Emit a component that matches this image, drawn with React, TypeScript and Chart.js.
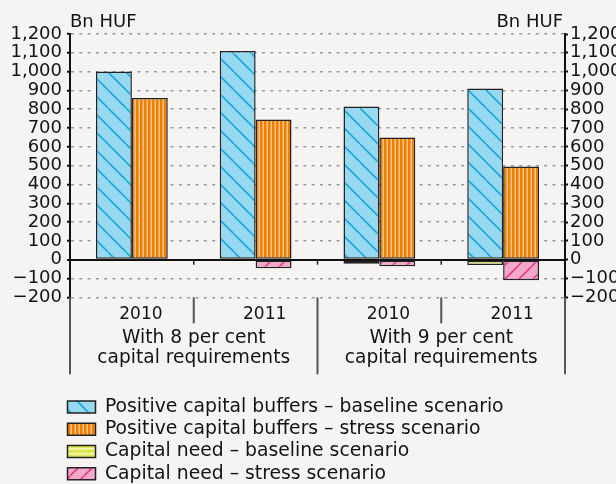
import React, { useEffect, useRef } from "react";
import { Chart, registerables } from "chart.js";

Chart.register(...registerables);

// ---- data ----
const CATEGORIES = ["2010", "2011", "2010", "2011"];
const GROUP_LABELS = [
  ["With 8 per cent", "capital requirements"],
  ["With 9 per cent", "capital requirements"],
];
const SERIES_NAMES = [
  "Positive capital buffers \u2013 baseline scenario",
  "Positive capital buffers \u2013 stress scenario",
  "Capital need \u2013 baseline scenario",
  "Capital need \u2013 stress scenario",
];
const BUFFER_BASELINE = [1000, 1110, 815, 910];
const BUFFER_STRESS = [860, 745, 650, 495];
const NEED_BASELINE = [0, 0, -22, -28];
const NEED_STRESS = [-5, -45, -35, -110];
const Y_MIN = -200;
const Y_MAX = 1200;
const Y_STEP = 100;
const UNIT_LABEL = "Bn HUF";

// ---- styles ----
const BG = "#f5f4f2";
const TEXT = "#141414";
const FONT = "DejaVu Sans";

function makePattern(kind: string, bg: string, fg: string): CanvasPattern | string {
  const c = document.createElement("canvas");
  let w = 18;
  let h = 18;
  if (kind === "back") { w = 18; h = 18; }
  if (kind === "fwd") { w = 14; h = 14; }
  if (kind === "vert") { w = 4; h = 4; }
  if (kind === "horiz") { w = 4; h = 5; }
  c.width = w;
  c.height = h;
  const g = c.getContext("2d");
  if (!g) return bg;
  g.fillStyle = bg;
  g.fillRect(0, 0, w, h);
  g.strokeStyle = fg;
  g.fillStyle = fg;
  if (kind === "back") {
    g.lineWidth = 1.6;
    for (const k of [-w, 0, w]) {
      g.beginPath();
      g.moveTo(k, 0);
      g.lineTo(k + w, h);
      g.stroke();
    }
  } else if (kind === "fwd") {
    g.lineWidth = 1.6;
    for (const k of [-w, 0, w]) {
      g.beginPath();
      g.moveTo(k, h);
      g.lineTo(k + w, 0);
      g.stroke();
    }
  } else if (kind === "vert") {
    g.fillRect(2.5, 0, 1.5, h);
  } else if (kind === "horiz") {
    g.fillRect(0, 3, w, 1.5);
  }
  return g.createPattern(c, "repeat") || bg;
}

function fmt(v: number): string {
  return Number(v).toLocaleString("en-US").replace("-", "\u2212");
}

const decorPlugin = {
  id: "decor",
  beforeDraw(chart: any) {
    const { ctx, width, height } = chart;
    ctx.save();
    ctx.fillStyle = BG;
    ctx.fillRect(0, 0, width, height);
    ctx.restore();
  },
  afterLayout(chart: any) {
    const lg = chart.legend;
    if (lg) {
      lg.left = 64;
      lg.top = 394;
    }
  },
  afterDraw(chart: any) {
    const { ctx, chartArea: area } = chart;
    const xs = chart.scales.x;
    const ys = chart.scales.y;
    const n = CATEGORIES.length;
    const centers = CATEGORIES.map((_, i) => xs.getPixelForValue(i));
    const half = (centers[1] - centers[0]) / 2;
    const bounds = [area.left, ...centers.slice(0, -1).map((c: number) => c + half), area.right];
    const y0 = ys.getPixelForValue(0);
    ctx.save();
    ctx.strokeStyle = "#222";
    ctx.lineWidth = 1.5;
    for (let i = 1; i < n; i++) {
      ctx.beginPath();
      ctx.moveTo(bounds[i], y0);
      ctx.lineTo(bounds[i], y0 + 5);
      ctx.stroke();
    }
    ctx.strokeStyle = "#555";
    ctx.lineWidth = 2;
    for (let i = 0; i <= n; i++) {
      const long = i % 2 === 0;
      ctx.beginPath();
      ctx.moveTo(bounds[i], area.bottom);
      ctx.lineTo(bounds[i], area.bottom + (long ? 77 : 26));
      ctx.stroke();
    }
    ctx.fillStyle = TEXT;
    ctx.font = `18.6px "${FONT}"`;
    ctx.textAlign = "center";
    ctx.textBaseline = "middle";
    GROUP_LABELS.forEach((lines, gi) => {
      const cx = (bounds[gi * 2] + bounds[gi * 2 + 2]) / 2;
      lines.forEach((t, li) => {
        ctx.fillText(t, cx, area.bottom + 41 + li * 20);
      });
    });
    ctx.font = `18px "${FONT}"`;
    ctx.textBaseline = "alphabetic";
    ctx.textAlign = "left";
    ctx.fillText(UNIT_LABEL, area.left, area.top - 7);
    ctx.textAlign = "right";
    ctx.fillText(UNIT_LABEL, area.right - 2, area.top - 7);
    ctx.restore();
  },
};

export default function App() {
  const ref = useRef<HTMLCanvasElement>(null);

  useEffect(() => {
    document.body.style.background = BG;
    const canvas = ref.current;
    if (!canvas) return;
    const blue = makePattern("back", "#97d9f0", "#1da7df");
    const orange = makePattern("vert", "#f07f00", "#f9c38c");
    const yellow = makePattern("horiz", "#dfe656", "#f5f7b8");
    const pink = makePattern("fwd", "#f2a8c9", "#e63d8c");
    const common = {
      borderColor: "#222",
      borderWidth: 1.5,
      borderSkipped: false as const,
      categoryPercentage: 0.58,
      barPercentage: 1,
    };
    const chart = new Chart(canvas, {
      type: "bar",
      data: {
        labels: CATEGORIES,
        datasets: [
          { label: SERIES_NAMES[0], data: BUFFER_BASELINE, backgroundColor: blue as any, stack: "a", ...common },
          { label: SERIES_NAMES[1], data: BUFFER_STRESS, backgroundColor: orange as any, stack: "b", ...common },
          { label: SERIES_NAMES[2], data: NEED_BASELINE, backgroundColor: yellow as any, stack: "a", ...common },
          { label: SERIES_NAMES[3], data: NEED_STRESS, backgroundColor: pink as any, stack: "b", ...common },
        ],
      },
      options: {
        responsive: false,
        animation: false,
        devicePixelRatio: 1,
        layout: { padding: { top: 34, left: 0, right: 0, bottom: 0 } },
        font: { family: FONT, size: 18 },
        plugins: {
          tooltip: { enabled: false },
          legend: {
            display: true,
            position: "bottom",
            align: "start",
            labels: {
              font: { family: FONT, size: 18.8 },
              color: TEXT,
              boxWidth: 28,
              boxHeight: 12,
              padding: 3.5,
            },
          },
        },
        scales: {
          x: {
            stacked: true,
            offset: true,
            grid: { display: false, drawTicks: false },
            border: { display: false },
            ticks: {
              font: { family: FONT, size: 17 },
              color: TEXT,
              padding: 7,
              labelOffset: 9,
              maxRotation: 0,
              autoSkip: false,
            },
            afterFit(scale: any) {
              scale.height = 87.5;
            },
          },
          y: {
            stacked: true,
            position: "left",
            min: Y_MIN,
            max: Y_MAX,
            ticks: {
              stepSize: Y_STEP,
              autoSkip: false,
              font: { family: FONT, size: 18 },
              color: TEXT,
              padding: 5,
              callback: (v: any) => fmt(v),
            },
            grid: {
              color: (c: any) => (c.tick && c.tick.value === 0 ? "#111" : "#9a9a9a"),
              lineWidth: (c: any) => (c.tick && c.tick.value === 0 ? 2 : 1.5),
              tickLength: 3,
              tickColor: "#111",
              tickWidth: 2,
            },
            border: {
              display: true,
              color: "#111",
              width: 2,
              dash: (c: any) => (c.tick && c.tick.value === 0 ? [] : [3, 5.3]),
            } as any,
            afterFit(scale: any) {
              scale.width = 70;
            },
          },
          y2: {
            position: "right",
            min: Y_MIN,
            max: Y_MAX,
            ticks: {
              stepSize: Y_STEP,
              autoSkip: false,
              font: { family: FONT, size: 18 },
              color: TEXT,
              padding: 2,
              callback: (v: any) => fmt(v),
            },
            grid: {
              drawOnChartArea: false,
              drawTicks: true,
              tickLength: 3,
              tickColor: "#111",
              tickWidth: 2,
            },
            border: { display: true, color: "#111", width: 2 },
            afterFit(scale: any) {
              scale.width = 51;
            },
          },
        },
      } as any,
      plugins: [decorPlugin],
    });
    return () => chart.destroy();
  }, []);

  return (
    <div style={{ position: "fixed", left: 0, top: 0, width: 616, height: 484, background: BG }}>
      <canvas ref={ref} width={616} height={484} style={{ display: "block" }} />
    </div>
  );
}
